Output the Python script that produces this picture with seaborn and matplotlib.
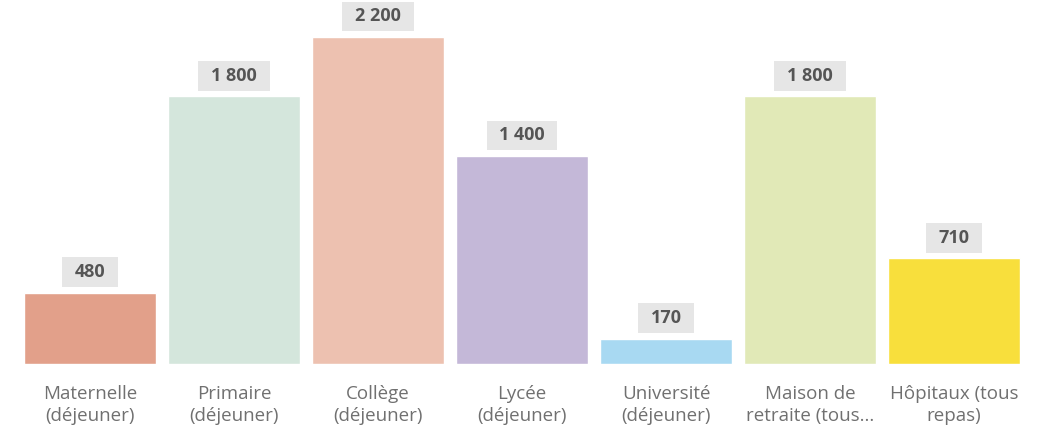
import matplotlib
matplotlib.use("Agg")
import matplotlib.pyplot as plt
from matplotlib.path import Path
import seaborn as sns
import pandas as pd

categories = ["Maternelle\n(déjeuner)", "Primaire\n(déjeuner)", "Collège\n(déjeuner)",
              "Lycée\n(déjeuner)", "Université\n(déjeuner)", "Maison de\nretraite (tous...",
              "Hôpitaux (tous\nrepas)"]
values = [480, 1800, 2200, 1400, 170, 1800, 710]
colors = ["#E2A08A", "#D4E6DC", "#EDC1B0", "#C4B8D8", "#A8D9F2", "#E1E9B7", "#F8DF3C"]

df = pd.DataFrame({"cat": categories, "val": values})

sns.set_theme(style="white")
plt.rcParams['font.family'] = ['Open Sans', 'DejaVu Sans']


def label_box(x0, y0, width, height, mutation_size):
    px = 0.7 * mutation_size
    py = 0.32 * mutation_size
    x0, y0 = x0 - px, y0 - py
    x1, y1 = x0 + width + 2 * px, y0 + height + 2 * py
    return Path([(x0, y0), (x1, y0), (x1, y1), (x0, y1), (x0, y0)], closed=True)


fig = plt.figure(figsize=(10.51, 4.33), dpi=100)
ax = fig.add_axes([18/1051, (433-364)/433, 1008/1051, 364/433])
sns.barplot(data=df, x="cat", y="val", hue="cat", palette=colors, legend=False,
            width=132/144, ax=ax, saturation=1)
ax.set_ylim(0, 2449)
ax.set_xlim(-0.5, 6.5)
for s in ax.spines.values():
    s.set_visible(False)
ax.set_yticks([])
ax.set_xlabel("")
ax.set_ylabel("")
ax.tick_params(axis="x", length=0, pad=15, labelsize=13.5, labelcolor="#707070")
for t in ax.get_xticklabels():
    t.set_linespacing(1.3)

for cont in ax.containers:
    ax.bar_label(cont, labels=[f"{v:,.0f}".replace(",", " ") for v in cont.datavalues],
                 padding=8.3, fontsize=13, fontweight="bold", color="#555555",
                 bbox=dict(boxstyle=label_box, fc="#E6E6E6", ec="none"))

fig.savefig("out.png", dpi=100)
